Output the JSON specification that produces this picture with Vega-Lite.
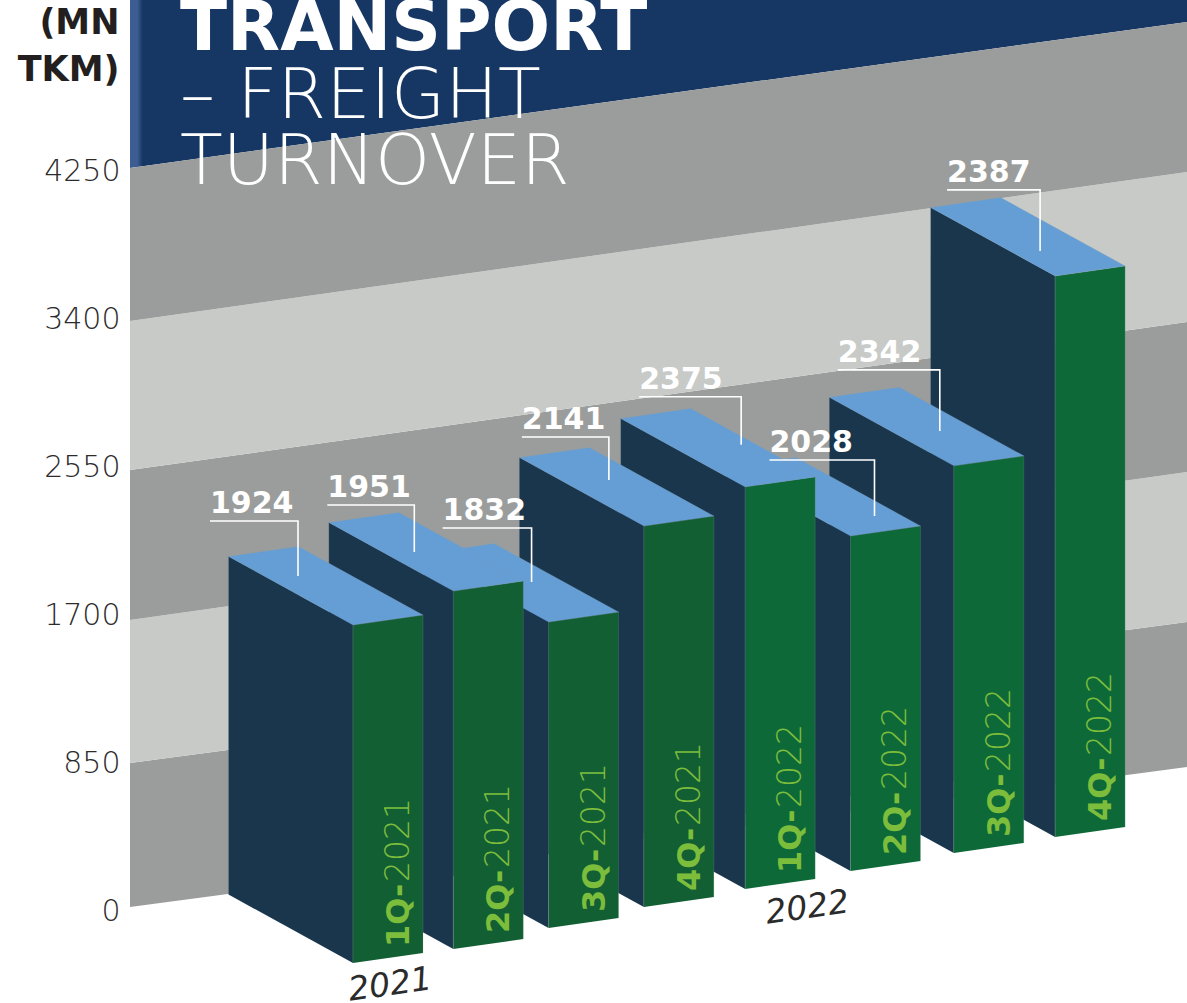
{
"$schema":"https://vega.github.io/schema/vega-lite/v6.json",
"width":1057,"height":1003,"autosize":"none",
"padding":{"left":130,"top":0,"right":0,"bottom":0},
"background":"#ffffff",
"title":{"text":"TRANSPORT","subtitle":["– FREIGHT","TURNOVER"],"anchor":"start","frame":"group","orient":"top","offset":-198,"dx":50,"color":"#ffffff","font":"DejaVu Sans","fontSize":69,"fontWeight":"bold","subtitleColor":"#ffffff","subtitleFont":"DejaVu Sans","subtitleFontSize":70,"subtitleFontWeight":200,"subtitleLineHeight":66,"subtitlePadding":-1},
"datasets":{
"bars":[
{"period":"4Q-2022","quarter":"4Q-","year":"2022","value":2387,"slot":7,"base":403,"reach":3226,"note_dx":-15,"note_len":93,"note_rise":495,"note_tip":144},
{"period":"3Q-2022","quarter":"3Q-","year":"2022","value":2342,"slot":5.99,"base":311,"reach":2226,"note_dx":-14,"note_len":102,"note_rise":552,"note_tip":201},
{"period":"2Q-2022","quarter":"2Q-","year":"2022","value":2028,"slot":4.96,"base":207,"reach":1927,"note_dx":24,"note_len":105,"note_rise":437,"note_tip":115},
{"period":"1Q-2022","quarter":"1Q-","year":"2022","value":2375,"slot":3.91,"base":104,"reach":2312,"note_dx":-4,"note_len":102,"note_rise":518,"note_tip":242},
{"period":"4Q-2021","quarter":"4Q-","year":"2021","value":2141,"slot":2.9,"base":0,"reach":2191,"note_dx":-35,"note_len":87,"note_rise":512,"note_tip":265},
{"period":"3Q-2021","quarter":"3Q-","year":"2021","value":1832,"slot":1.95,"base":-121,"reach":1760,"note_dx":-17,"note_len":89,"note_rise":541,"note_tip":230},
{"period":"2Q-2021","quarter":"2Q-","year":"2021","value":1951,"slot":1,"base":-242,"reach":2059,"note_dx":-39,"note_len":87,"note_rise":495,"note_tip":224},
{"period":"1Q-2021","quarter":"1Q-","year":"2021","value":1924,"slot":0,"base":-322,"reach":1944,"note_dx":-55,"note_len":88,"note_rise":598,"note_tip":282}
],
"bands":[
{"band":"0-850","from":0,"from_end":805,"to":828,"to_end":1639,"tone":"dark"},
{"band":"850-1700","from":828,"from_end":1639,"to":1651,"to_end":2502,"tone":"light"},
{"band":"1700-2550","from":1651,"from_end":2502,"to":2513,"to_end":3364,"tone":"dark"},
{"band":"2550-3400","from":2513,"from_end":3364,"to":3370,"to_end":4227,"tone":"light"},
{"band":"3400-4250","from":3370,"from_end":4227,"to":4250,"to_end":5090,"tone":"dark"}
]
},
"resolve":{"scale":{"fill":"independent"}},
"layer":[
{"data":{"values":[{"from":4250,"from_end":5090,"to":6400,"to_end":6400}]},
 "transform":[{"calculate":"[0,1057]","as":"run"},{"flatten":["run"]},{"calculate":"datum.run==0?datum.from:datum.from_end","as":"lo"},{"calculate":"datum.run==0?datum.to:datum.to_end","as":"hi"}],
 "mark":{"type":"area","clip":true,"fill":{"gradient":"linear","x1":0,"x2":1,"y1":0,"y2":0,"stops":[{"offset":0,"color":"#3d5c92"},{"offset":0.007,"color":"#3d5c92"},{"offset":0.012,"color":"#163663"},{"offset":1,"color":"#163663"}]}},
 "encoding":{"x":{"field":"run","type":"quantitative","scale":{"domain":[0,1057],"nice":false,"zero":false},"axis":null},
 "y":{"field":"lo","type":"quantitative","scale":{"domain":[-552,5216],"nice":false,"zero":false},
   "axis":{"values":[0,850,1700,2550,3400,4250],"format":"d","domain":false,"ticks":false,"grid":false,"labelOffset":4,"labelFont":"DejaVu Sans","labelFontWeight":200,"labelFontSize":30,"labelColor":"#2b2b2b","labelPadding":10,"title":["(MN","TKM)"],"titleFont":"DejaVu Sans","titleFontWeight":"bold","titleFontSize":35,"titleColor":"#231f20","titleAngle":0,"titleAlign":"right","titleBaseline":"alphabetic","titleX":-11,"titleY":33,"titleLineHeight":47}},
 "y2":{"field":"hi"}}},
{"data":{"name":"bands"},
 "transform":[{"calculate":"[0,1057]","as":"run"},{"flatten":["run"]},{"calculate":"datum.run==0?datum.from:datum.from_end","as":"lo"},{"calculate":"datum.run==0?datum.to:datum.to_end","as":"hi"}],
 "mark":{"type":"area","clip":true},
 "encoding":{"x":{"field":"run","type":"quantitative"},"y":{"field":"lo","type":"quantitative"},"y2":{"field":"hi"},"detail":{"field":"band"},
 "fill":{"field":"tone","type":"nominal","scale":{"domain":["dark","light"],"range":["#9a9d9b","#c8cac8"]},"legend":null}}},
{"data":{"name":"bars"},
 "transform":[
 {"calculate":"[{f:'side',k:0,w:0,d:0,t:0},{f:'side',k:1,w:0,d:0,t:1},{f:'side',k:2,w:0,d:1,t:1},{f:'side',k:3,w:0,d:1,t:0},{f:'front',k:0,w:0,d:0,t:0},{f:'front',k:1,w:0,d:0,t:1},{f:'front',k:2,w:1,d:0,t:1},{f:'front',k:3,w:1,d:0,t:0},{f:'top',k:0,w:0,d:0,t:1},{f:'top',k:1,w:1,d:0,t:1},{f:'top',k:2,w:1,d:1,t:1},{f:'top',k:3,w:0,d:1,t:1}]","as":"c"},
 {"flatten":["c"]},
 {"calculate":"datum.c.k","as":"corner"},
 {"calculate":"datum.c.f=='front'?'front'+datum.year:datum.c.f","as":"face"},
 {"calculate":"223+100.3*datum.slot+70*datum.c.w-124.5*datum.c.d","as":"px"},
 {"calculate":"datum.base+datum.reach*datum.c.t+57.5*datum.c.w+394*datum.c.d","as":"pv"}
 ],
 "mark":{"type":"line","clip":true,"strokeWidth":0.6,"strokeOpacity":0.35,"stroke":"#8fa3a8"},
 "encoding":{"x":{"field":"px","type":"quantitative"},"y":{"field":"pv","type":"quantitative"},"order":{"field":"corner","type":"quantitative"},"detail":{"field":"period"},
 "fill":{"field":"face","type":"nominal","scale":{"domain":["side","front2021","front2022","top"],"range":["#19364d","#125f34","#0d6a38","#659dd5"]},"legend":null}}},
{"data":{"name":"bars"},
 "transform":[
 {"calculate":"[0,1,2]","as":"k"},{"flatten":["k"]},
 {"calculate":"223+100.3*datum.slot+datum.note_dx-(datum.k==0?datum.note_len:0)","as":"px"},
 {"calculate":"datum.base+datum.reach+(datum.k==2?datum.note_tip:datum.note_rise)","as":"pv"}
 ],
 "mark":{"type":"line","color":"#ffffff","strokeWidth":1.6},
 "encoding":{"x":{"field":"px","type":"quantitative"},"y":{"field":"pv","type":"quantitative"},"order":{"field":"k","type":"quantitative"},"detail":{"field":"period"}}},
{"data":{"name":"bars"},
 "transform":[
 {"calculate":"223+100.3*datum.slot+datum.note_dx-datum.note_len","as":"px"},
 {"calculate":"datum.base+datum.reach+datum.note_rise+46","as":"pv"}
 ],
 "mark":{"type":"text","align":"left","baseline":"alphabetic","color":"#ffffff","font":"DejaVu Sans","fontWeight":"bold","fontSize":30},
 "encoding":{"x":{"field":"px","type":"quantitative"},"y":{"field":"pv","type":"quantitative"},"text":{"field":"value","type":"nominal"}}},
{"data":{"name":"bars"},
 "transform":[
 {"calculate":"223+100.3*datum.slot+46","as":"px"},
 {"calculate":"datum.base+92","as":"pv"}
 ],
 "mark":{"type":"text","angle":270,"align":"left","baseline":"middle","color":"#7dbd3c","font":"DejaVu Sans","fontWeight":"bold","fontSize":32},
 "encoding":{"x":{"field":"px","type":"quantitative"},"y":{"field":"pv","type":"quantitative"},"text":{"field":"quarter","type":"nominal"}}},
{"data":{"name":"bars"},
 "transform":[
 {"calculate":"223+100.3*datum.slot+46","as":"px"},
 {"calculate":"datum.base+466","as":"pv"}
 ],
 "mark":{"type":"text","angle":270,"align":"left","baseline":"middle","color":"#7dbd3c","font":"DejaVu Sans","fontWeight":200,"fontSize":33},
 "encoding":{"x":{"field":"px","type":"quantitative"},"y":{"field":"pv","type":"quantitative"},"text":{"field":"year","type":"nominal"}}},
{"data":{"values":[{"year":"2021","slot":0.37,"base":-449},{"year":"2022","slot":4.53,"base":-6}]},
 "transform":[
 {"calculate":"223+100.3*datum.slot","as":"px"}
 ],
 "mark":{"type":"text","angle":352,"align":"center","baseline":"middle","color":"#2b2b2b","font":"DejaVu Sans","fontStyle":"italic","fontWeight":200,"fontSize":33},
 "encoding":{"x":{"field":"px","type":"quantitative"},"y":{"field":"base","type":"quantitative"},"text":{"field":"year","type":"nominal"}}}
],
"config":{"view":{"stroke":null}}
}
